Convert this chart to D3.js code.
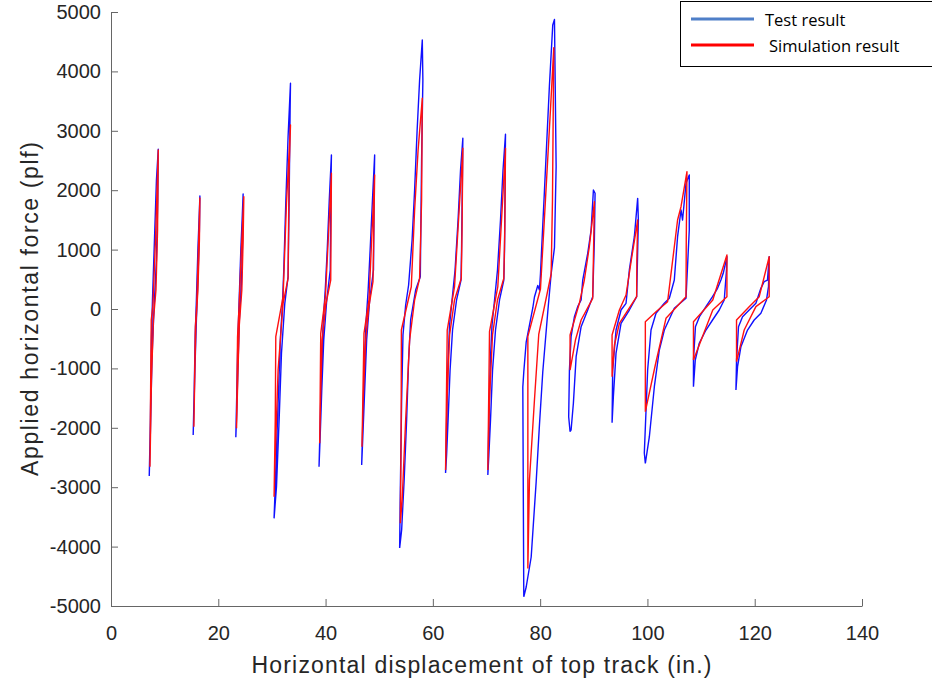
<!DOCTYPE html>
<html>
<head>
<meta charset="utf-8">
<script src="https://cdn.jsdelivr.net/npm/d3@7"></script>
<style>
  html, body { margin: 0; padding: 0; background: #fff; }
  svg { display: block; }
</style>
</head>
<body>
<svg id="chart" width="932" height="683"></svg>
<script>
// Axis ranges and tick labels
const xDomain = [0, 140];
const yDomain = [-5000, 5000];
const xTicks = [0, 20, 40, 60, 80, 100, 120, 140];
const yTicks = [-5000, -4000, -3000, -2000, -1000, 0, 1000, 2000, 3000, 4000, 5000];

const xTitle = "Horizontal displacement of top track (in.)";
const yTitle = "Applied horizontal force (plf)";
const seriesNames = ["Test result", "Simulation result"];

// Measured hysteresis cycles: [displacement (in.), force (plf)]
const testCycles = [
  [[7.13,-2811],[7.35,-1869],[7.54,-522],[7.73,152],[8.10,1162],[8.47,2172],[8.81,2689],[8.71,1835],[8.47,825],[8.01,-17],[7.63,-859],[7.35,-2037]],
  [[15.32,-2121],[15.51,-1364],[15.70,-438],[15.92,152],[16.20,993],[16.48,1667],[16.57,1902],[16.48,1330],[16.20,488],[15.92,-185],[15.64,-1027],[15.45,-1700]],
  [[23.27,-2160],[23.46,-1364],[23.65,-522],[23.89,152],[24.20,993],[24.48,1582],[24.63,1936],[24.54,1162],[24.30,404],[23.92,-185],[23.65,-1027],[23.42,-1785]],
  [[30.40,-3524],[30.72,-2710],[31.15,-1588],[31.60,-466],[31.97,96],[32.21,657],[32.58,1779],[33.01,2901],[33.46,3800],[33.39,3350],[33.20,1779],[33.01,544],[32.40,96],[31.78,-746],[31.34,-1869],[30.85,-2992]],
  [[38.78,-2655],[39.01,-1869],[39.29,-859],[39.57,-185],[39.94,320],[40.31,993],[40.69,1835],[41.09,2593],[41.00,2003],[40.87,657],[40.22,152],[39.66,-522],[39.29,-1364],[38.97,-2205]],
  [[46.73,-2626],[46.95,-1869],[47.25,-859],[47.57,-185],[47.94,320],[48.31,993],[48.74,1835],[49.15,2593],[49.06,2003],[48.93,657],[48.22,152],[47.66,-522],[47.29,-1364],[46.92,-2205]],
  [[53.81,-4023],[53.91,-3216],[54.18,-1532],[54.43,-438],[54.93,67],[55.48,404],[56.13,1162],[56.60,2003],[57.07,3013],[57.53,3855],[58.03,4529],[58.14,3855],[57.90,2508],[57.66,544],[56.79,320],[55.86,-185],[55.48,-859],[55.11,-1869],[54.65,-2879],[54.18,-3720]],
  [[62.37,-2761],[62.56,-1869],[62.84,-859],[63.12,-269],[63.58,152],[64.14,657],[64.70,1498],[65.16,2340],[65.59,2874],[65.53,2340],[65.35,993],[65.25,488],[64.42,152],[63.67,-354],[63.21,-1027],[62.84,-1869],[62.56,-2458]],
  [[70.25,-2795],[70.44,-1869],[70.72,-859],[71.03,-269],[71.50,152],[72.05,657],[72.61,1498],[73.08,2340],[73.54,2941],[73.49,2340],[73.36,993],[73.23,488],[72.43,152],[71.68,-354],[71.13,-1027],[70.75,-1869],[70.44,-2458]],
  [[76.95,-4845],[76.77,-1313],[76.95,-1061],[77.40,-556],[78.63,17],[78.94,202],[79.56,396],[79.87,320],[80.06,589],[80.49,1414],[80.80,1987],[81.73,3763],[82.35,4781],[82.67,4875],[82.98,2397],[82.67,1032],[82.05,589],[81.42,-51],[80.49,-1061],[79.87,-1953],[79.26,-2907],[78.33,-4175],[77.40,-4680]],
  [[85.58,-2066],[85.32,-1813],[85.46,-1027],[85.77,-466],[86.39,-130],[87.00,39],[87.64,152],[87.94,488],[88.87,938],[89.50,1330],[89.93,2003],[90.24,1948],[90.11,1162],[89.80,207],[88.87,-17],[87.64,-298],[86.71,-803],[86.20,-1582],[85.77,-2037]],
  [[93.41,-1914],[93.52,-1027],[94.15,-354],[95.08,-17],[96.01,96],[96.63,657],[97.56,1217],[98.18,1863],[98.31,1498],[97.99,207],[96.63,-17],[95.08,-241],[94.15,-741],[93.65,-1476]],
  [[99.61,-2598],[99.42,-2424],[100.04,-1027],[100.67,-354],[101.60,-72],[103.15,96],[104.08,180],[105.01,488],[105.62,1217],[106.26,1667],[106.55,1498],[107.19,2116],[107.80,2256],[107.80,1330],[107.19,180],[105.01,12],[103.15,-354],[102.22,-690],[101.29,-1308],[100.36,-2150]],
  [[108.58,-1308],[108.58,-859],[108.95,-298],[109.70,-130],[110.91,39],[112.14,207],[113.07,348],[113.70,488],[114.13,601],[114.82,880],[114.74,657],[114.32,152],[113.39,-17],[112.14,-185],[110.91,-354],[109.66,-577],[108.92,-859]],
  [[116.50,-1364],[116.61,-859],[116.98,-298],[117.73,-130],[118.97,-17],[120.22,96],[121.15,348],[121.76,460],[122.38,488],[122.70,880],[122.57,375],[122.20,152],[121.15,-72],[119.90,-185],[118.66,-354],[117.43,-635],[116.80,-971]]
];

// Simulated hysteresis cycles: [displacement (in.), force (plf)]
const simCycles = [
  [[7.26,-2655],[7.50,-185],[7.82,67],[8.29,1162],[8.81,2677],[8.68,1330],[8.38,320],[7.91,-185],[7.54,-1195]],
  [[15.45,-1981],[15.73,-298],[15.98,67],[16.29,993],[16.57,1869],[16.48,1162],[16.20,320],[15.82,-269],[15.60,-1195]],
  [[23.40,-2008],[23.59,-466],[23.89,67],[24.30,993],[24.76,1890],[24.63,1162],[24.39,320],[23.92,-269],[23.65,-1111]],
  [[30.40,-3160],[30.62,-1869],[30.72,-466],[32.08,207],[32.71,1779],[33.46,3098],[33.20,2340],[33.01,517],[32.08,96],[31.15,-1027],[30.53,-2710]],
  [[38.91,-2261],[39.10,-409],[39.97,207],[40.49,1162],[41.09,2285],[40.96,488],[40.03,67],[39.38,-522],[39.06,-1532]],
  [[46.79,-2318],[47.16,-409],[48.09,152],[48.59,1162],[49.15,2256],[48.84,460],[48.04,17],[47.48,-522],[47.01,-1532]],
  [[53.94,-3608],[54.09,-2037],[54.13,-354],[55.98,375],[56.60,1667],[57.25,2677],[58.03,3547],[57.90,1835],[57.53,517],[56.60,152],[55.67,-522],[54.93,-1869],[54.28,-3216]],
  [[62.37,-2710],[62.68,-354],[64.04,375],[64.79,1498],[65.59,2705],[65.44,1330],[65.30,517],[64.04,152],[63.12,-438],[62.65,-1532]],
  [[70.25,-2710],[70.56,-382],[72.11,375],[72.80,1498],[73.54,2705],[73.41,1330],[73.23,517],[72.05,152],[71.12,-438],[70.56,-1532]],
  [[77.71,-4369],[77.71,-461],[80.06,337],[80.99,1835],[81.92,3350],[82.54,4399],[82.30,1835],[82.05,589],[79.74,-429],[78.94,-1532],[78.01,-2879]],
  [[85.58,-1027],[85.58,-438],[87.31,96],[88.24,488],[89.17,1049],[90.11,1806],[89.99,1162],[89.80,180],[87.64,-185],[86.58,-522]],
  [[93.41,-1140],[93.41,-438],[94.77,-17],[96.01,236],[97.00,825],[98.18,1498],[98.03,825],[97.99,207],[94.77,-241],[93.85,-606]],
  [[99.61,-1729],[99.61,-214],[101.60,-45],[103.76,123],[105.62,1498],[106.26,1722],[107.37,2311],[107.24,1162],[107.19,207],[103.46,-157],[101.47,-943]],
  [[108.58,-859],[108.58,-214],[112.18,152],[114.82,909],[114.82,207],[112.18,-17]],
  [[116.61,-887],[116.61,-185],[118.97,39],[120.84,207],[122.70,880],[122.70,207],[120.22,39],[118.04,-354]]
];

const svg = d3.select("#chart");
const margin = { left: 111, right: 70, top: 12, bottom: 77 };
const W = 932, H = 683;

const x = d3.scaleLinear().domain(xDomain).range([margin.left, W - margin.right]);
const y = d3.scaleLinear().domain(yDomain).range([H - margin.bottom, margin.top]);

const axisColor = "#666";
const textColor = "#262626";
const axisFont = "'Liberation Sans', Arial, sans-serif";
// plain hyphen for negative tick values
const plain = d => String(d);

// x axis with inward ticks
const gx = svg.append("g")
  .attr("transform", `translate(0,${y(yDomain[0])})`)
  .call(d3.axisBottom(x).tickValues(xTicks).tickFormat(plain)
    .tickSizeInner(-7).tickSizeOuter(0).tickPadding(20));
gx.select(".domain").attr("stroke", axisColor);
gx.selectAll(".tick line").attr("stroke", axisColor);
gx.selectAll(".tick text")
  .attr("fill", textColor).style("font-family", axisFont).style("font-size", "20px");

// y axis with inward ticks
const gy = svg.append("g")
  .attr("transform", `translate(${x(xDomain[0])},0)`)
  .call(d3.axisLeft(y).tickValues(yTicks).tickFormat(plain)
    .tickSizeInner(-7).tickSizeOuter(0).tickPadding(10));
gy.select(".domain").attr("stroke", axisColor);
gy.selectAll(".tick line").attr("stroke", axisColor);
gy.selectAll(".tick text")
  .attr("fill", textColor).style("font-family", axisFont).style("font-size", "20px");

// axis titles
svg.append("text")
  .attr("x", (x(xDomain[0]) + x(xDomain[1])) / 2 - 5)
  .attr("y", 673)
  .attr("text-anchor", "middle")
  .attr("textLength", 460)
  .attr("lengthAdjust", "spacing")
  .attr("fill", textColor)
  .style("font-family", axisFont).style("font-size", "23px")
  .text(xTitle);

svg.append("text")
  .attr("transform", `translate(38,${(y(yDomain[0]) + y(yDomain[1])) / 2}) rotate(-90)`)
  .attr("text-anchor", "middle")
  .attr("textLength", 334)
  .attr("lengthAdjust", "spacing")
  .attr("fill", textColor)
  .style("font-family", axisFont).style("font-size", "23px")
  .text(yTitle);

// closed hysteresis loops
const line = d3.line().x(d => x(d[0])).y(d => y(d[1]));
const closed = c => c.concat([c[0]]);

svg.append("g").selectAll("path")
  .data(testCycles)
  .join("path")
  .attr("d", c => line(closed(c)))
  .attr("fill", "none")
  .attr("stroke", "#1010ff")
  .attr("stroke-width", 1.4)
  .attr("stroke-linejoin", "round");

svg.append("g").selectAll("path")
  .data(simCycles)
  .join("path")
  .attr("d", c => line(closed(c)))
  .attr("fill", "none")
  .attr("stroke", "#ff1010")
  .attr("stroke-width", 1.4)
  .attr("stroke-linejoin", "round");

// legend
const legend = svg.append("g");
legend.append("rect")
  .attr("x", 680.5).attr("y", 1.5).attr("width", 270).attr("height", 65)
  .attr("fill", "#fff").attr("stroke", "#000").attr("stroke-width", 1);

const legendColors = ["#4f7fc8", "#ff0000"];
const legendRows = [19, 45];
const legendTextX = [765, 769];
seriesNames.forEach((name, i) => {
  legend.append("line")
    .attr("x1", 691).attr("x2", 754)
    .attr("y1", legendRows[i]).attr("y2", legendRows[i])
    .attr("stroke", legendColors[i]).attr("stroke-width", 3.2);
  legend.append("text")
    .attr("x", legendTextX[i]).attr("y", legendRows[i] + 7)
    .attr("fill", "#000")
    .style("font-family", "'Open Sans', 'Noto Sans', sans-serif")
    .style("font-size", "16.5px")
    .text(name);
});
</script>
</body>
</html>
